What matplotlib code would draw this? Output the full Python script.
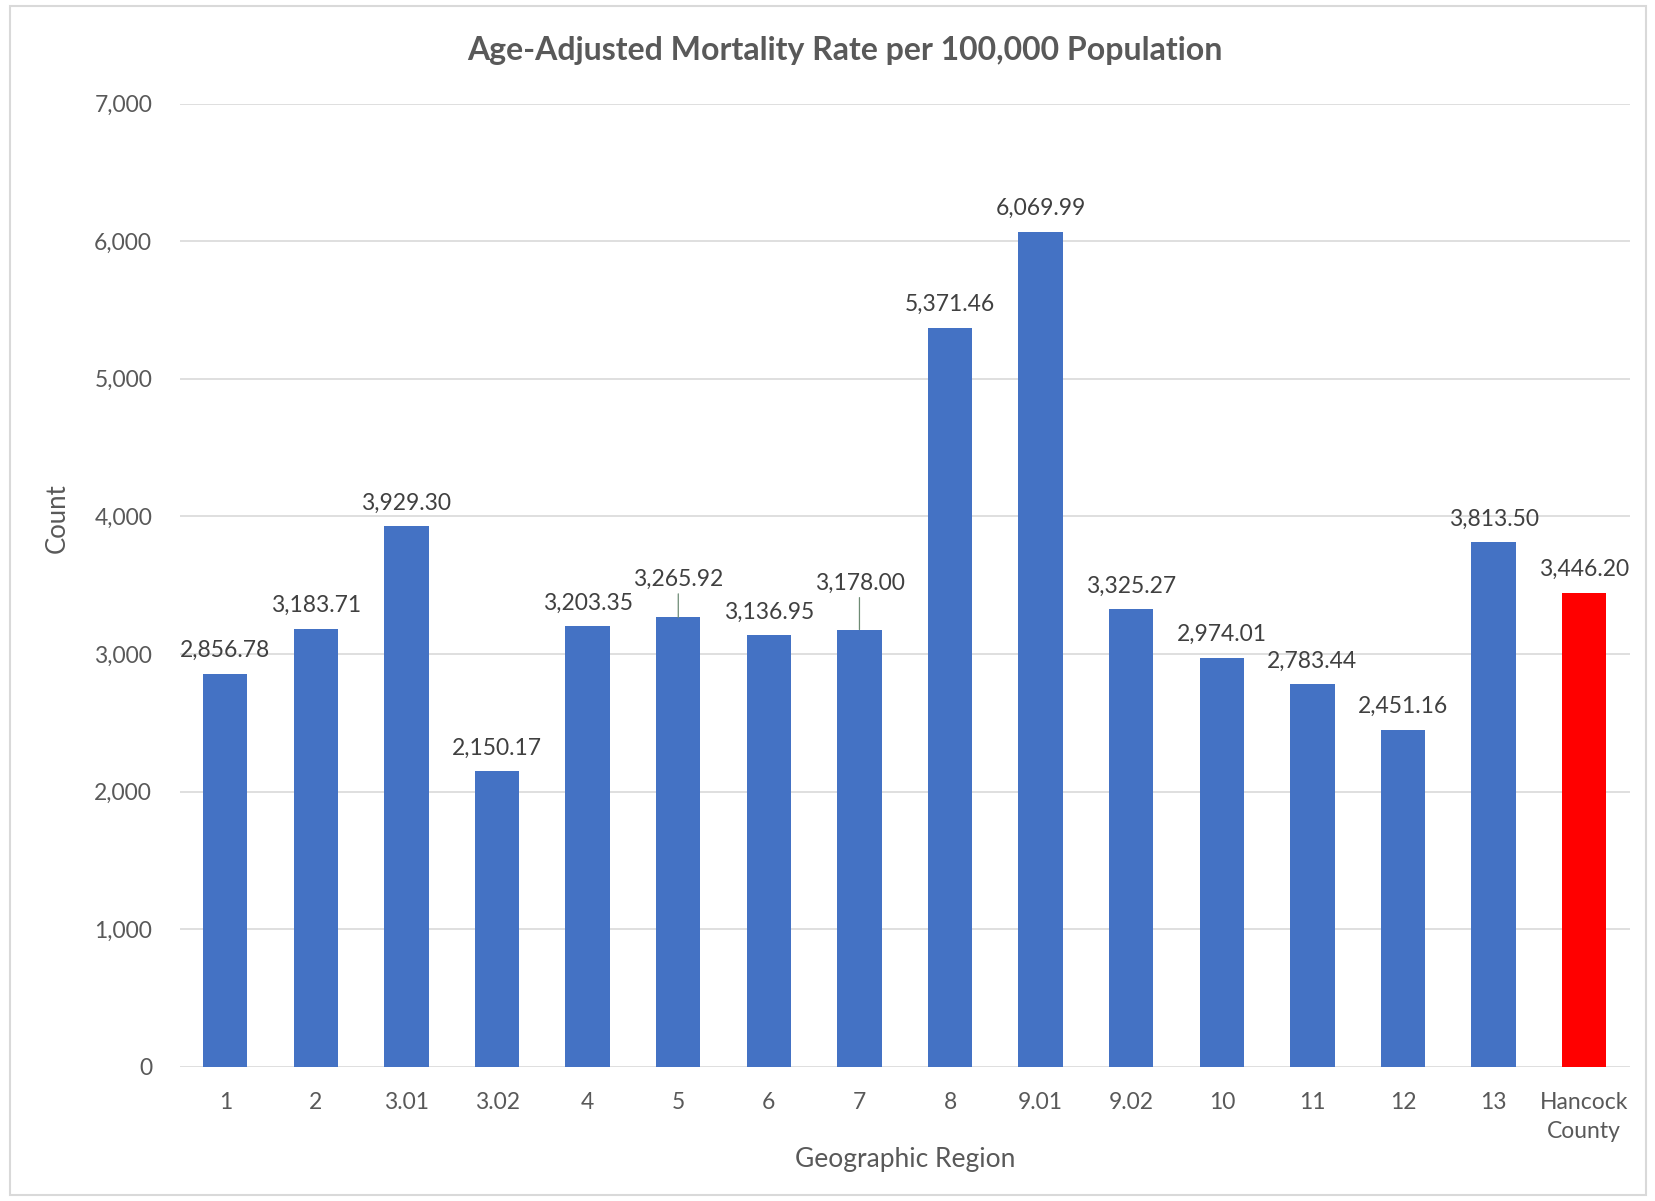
import numpy as np
import matplotlib
matplotlib.use('Agg')
import matplotlib.pyplot as plt
from matplotlib.patches import Rectangle

plt.rcParams['font.family'] = ['Lato', 'DejaVu Sans']

# data
regions = ['1', '2', '3.01', '3.02', '4', '5', '6', '7', '8', '9.01',
           '9.02', '10', '11', '12', '13', 'Hancock\nCounty']
rates = [2856.78, 3183.71, 3929.30, 2150.17, 3203.35, 3265.92, 3136.95,
         3178.00, 5371.46, 6069.99, 3325.27, 2974.01, 2783.44, 2451.16,
         3813.50, 3446.20]
yticks = [0, 1000, 2000, 3000, 4000, 5000, 6000, 7000]

blue = '#4472C4'
red = '#FF0000'
grey_txt = '#595959'

fig = plt.figure(figsize=(16.56, 12.01), dpi=100)
ax = fig.add_axes([0.1087, 0.1116, 0.8753, 0.8022])

# light frame around the chart area, like an Excel chart object
fig.patches.append(Rectangle((0.006, 0.005), 0.988, 0.99, transform=fig.transFigure,
                             fill=False, edgecolor='#D9D9D9', linewidth=1.5))

x = np.arange(len(regions))
colors = [blue] * (len(regions) - 1) + [red]
bars = ax.bar(x, rates, width=0.49, color=colors, zorder=3)

ax.set_xlim(-0.5, len(regions) - 0.5)
ax.set_ylim(0, 7000)
ax.set_yticks(yticks)
ax.set_yticklabels(['{:,}'.format(v) for v in yticks])
ax.set_xticks(x)
ax.set_xticklabels(regions, linespacing=1.5)
ax.tick_params(axis='both', length=0, labelsize=16.5, labelcolor=grey_txt)
ax.tick_params(axis='x', pad=18)
ax.tick_params(axis='y', pad=20)
ax.grid(axis='y', color='#D9D9D9', linewidth=1.2, zorder=0)
for s in ax.spines.values():
    s.set_visible(False)

# labels for 5 and 7 were dragged up in the original, leaving leader lines
lifted = {5: 11, 7: 17}
for i, (b, v) in enumerate(zip(bars, rates)):
    cx = b.get_x() + b.get_width() / 2
    off = lifted.get(i, 0)
    if off:
        ax.annotate('{:,.2f}'.format(v), xy=(cx, v), xytext=(0, 9 + off),
                    textcoords='offset points', ha='center', va='bottom',
                    fontsize=16.5, color='#404040',
                    arrowprops=dict(arrowstyle='-', color='#6E8B74', lw=0.9,
                                    shrinkA=1, shrinkB=0))
    else:
        ax.annotate('{:,.2f}'.format(v), xy=(cx, v), xytext=(0, 9),
                    textcoords='offset points', ha='center', va='bottom',
                    fontsize=16.5, color='#404040')

ax.set_ylabel('Count', fontsize=18.5, color=grey_txt)
ax.yaxis.set_label_coords(-0.076, 0.57)
ax.set_xlabel('Geographic Region', fontsize=19, color=grey_txt, labelpad=3)
fig.suptitle('Age-Adjusted Mortality Rate per 100,000 Population', x=0.51, y=0.97,
             fontsize=23, fontweight='bold', color=grey_txt)

fig.savefig('out.png', dpi=100)
